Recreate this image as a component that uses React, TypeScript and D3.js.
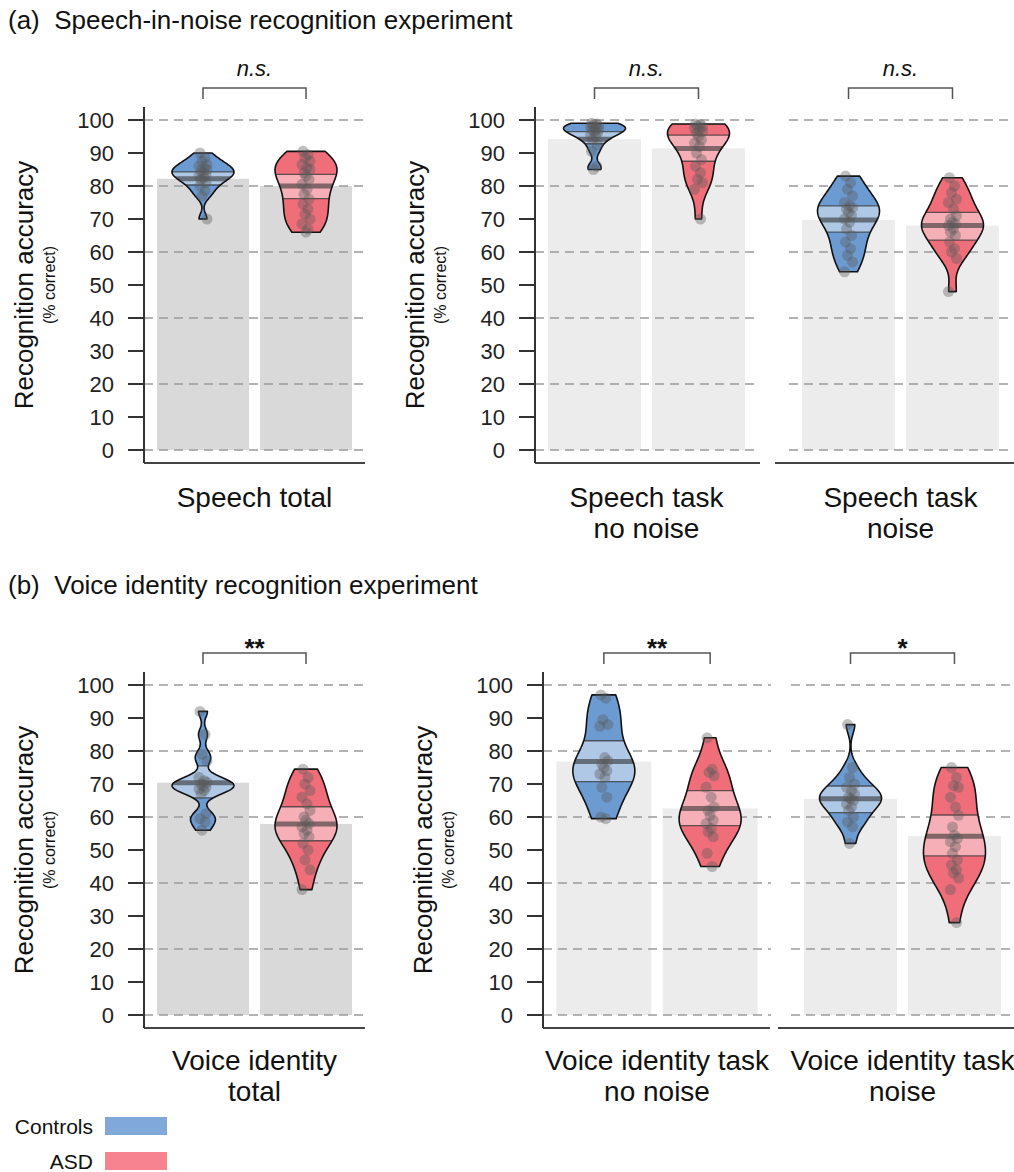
import React, { useRef, useEffect } from 'react'
import * as d3 from 'd3'

const groups = ['Controls', 'ASD']
const beanColors = ['#6c9bd2', '#ef6e7a']
const legendColors = ['#80a9da', '#f6838d']

// (a) speech-in-noise
const speechTitle = '(a)  Speech-in-noise recognition experiment'
const speechLabels = [['Speech total'], ['Speech task', 'no noise'], ['Speech task', 'noise']]
const speechSig = ['n.s.', 'n.s.', 'n.s.']
const speechMeans = [[82.2, 80.0], [94.2, 91.4], [69.7, 68.0]]
const speechCiLow = [[80.3, 76.2], [92.8, 87.5], [66.0, 63.6]]
const speechCiHigh = [[84.3, 83.5], [96.5, 95.4], [74.0, 72.0]]

const speechTotalControls = [90, 88.5, 87.5, 86.5, 86, 85.5, 85, 84.5, 84, 83.5, 83, 82.5, 82, 81, 80, 78.5, 77, 70]
const speechTotalAsd = [90.5, 89.5, 88.5, 87.5, 86.5, 85.5, 85, 84, 83, 82, 80.5, 79, 77.5, 76, 74.5, 73, 71.5, 70, 68.5, 67, 66]
const speechQuietControls = [99, 98.8, 98.6, 98.3, 98, 97.7, 97.3, 97, 96.5, 96, 95.5, 95, 94, 92.5, 90.5, 86, 85]
const speechQuietAsd = [98.8, 98.6, 98.3, 98, 97.5, 97, 96.5, 96, 95, 94, 93, 92, 90, 88, 86, 84, 82, 81, 79, 70]
const speechNoiseControls = [83, 81, 79, 77, 75, 74, 73.5, 73, 72, 71, 70, 69, 67, 65, 63, 61, 59, 57, 54]
const speechNoiseAsd = [82.5, 80, 78, 76, 75, 73, 71, 70, 69, 68.5, 68, 67, 66, 65, 63, 61, 60, 58, 48]

// (b) voice identity
const voiceTitle = '(b)  Voice identity recognition experiment'
const voiceLabels = [['Voice identity', 'total'], ['Voice identity task', 'no noise'], ['Voice identity task', 'noise']]
const voiceSig = ['**', '**', '*']
const voiceMeans = [[70.4, 57.9], [76.8, 62.6], [65.5, 54.2]]
const voiceCiLow = [[65.8, 52.8], [70.7, 57.4], [61.3, 48.2]]
const voiceCiHigh = [[75.5, 63.1], [83.1, 68.0], [69.4, 60.6]]

const voiceTotalControls = [92, 85, 79, 77, 72, 71, 70.5, 70, 69.5, 69, 68.5, 68, 67, 61, 59.5, 58.5, 56]
const voiceTotalAsd = [74.5, 72, 70, 68, 66, 64, 62, 60, 59, 58, 57, 56, 55, 54, 52, 50, 47, 44, 38]
const voiceQuietControls = [97, 96, 89.5, 88, 87.5, 78, 77, 76, 75, 74, 73, 72, 69, 66, 60, 59.5]
const voiceQuietAsd = [84, 74.5, 73.5, 72.5, 69, 66, 63, 62, 60.5, 59, 58, 56.5, 55.5, 54, 49, 45]
const voiceNoiseControls = [88, 75, 72, 70, 69, 68, 67, 66, 65.5, 65, 64, 63, 62, 60, 58.5, 57, 52]
const voiceNoiseAsd = [75, 72, 69.5, 69, 66, 63, 60.5, 57, 54.5, 53.5, 52.5, 51, 49, 47, 45.5, 44, 43, 41.5, 38, 28]

const yTicks = d3.range(0, 101, 10)
const gridTicks = d3.range(0, 101, 20)

const FONT = 'Liberation Sans, Arial, Helvetica, sans-serif'
const W = 1014
const H = 1172

const rows = [
    {
        title: speechTitle, labels: speechLabels, sig: speechSig,
        means: speechMeans, ciLow: speechCiLow, ciHigh: speechCiHigh,
        points: [[speechTotalControls, speechTotalAsd], [speechQuietControls, speechQuietAsd], [speechNoiseControls, speechNoiseAsd]],
        titleY: 29, axisTop: 107, yZero: 450, yTop: 120, axisBottom: 463, labelY: 507,
        panels: [
            { x0: 144, x1: 365, axis: true, lineX0: 144, lineX1: 365 },
            { x0: 535, x1: 758, axis: true, lineX0: 535, lineX1: 760 },
            { x0: 789, x1: 1012, axis: false, lineX0: 775, lineX1: 1014 },
        ],
    },
    {
        title: voiceTitle, labels: voiceLabels, sig: voiceSig,
        means: voiceMeans, ciLow: voiceCiLow, ciHigh: voiceCiHigh,
        points: [[voiceTotalControls, voiceTotalAsd], [voiceQuietControls, voiceQuietAsd], [voiceNoiseControls, voiceNoiseAsd]],
        titleY: 594, axisTop: 672, yZero: 1015, yTop: 685, axisBottom: 1028, labelY: 1070,
        panels: [
            { x0: 144, x1: 365, axis: true, lineX0: 144, lineX1: 365 },
            { x0: 543, x1: 771, axis: true, lineX0: 543, lineX1: 770 },
            { x0: 791, x1: 1014, axis: false, lineX0: 778, lineX1: 1014 },
        ],
    },
]

// small horizontal jitter for the dots
const jitter = [-3, 2, -1, 4, -4, 1, 4, -2, 0, 3, -4, 1, -2, 3, -3, 2, -1, 4, -4, 2, 0]

// gaussian kernel density, R's nrd0 bandwidth, cut to the data range
function kde(values: number[]) {
    const s = values.slice().sort(d3.ascending)
    const n = s.length
    const sd = d3.deviation(s) as number
    const iqr = (d3.quantile(s, 0.75) as number) - (d3.quantile(s, 0.25) as number)
    const bw = 0.9 * Math.min(sd, iqr / 1.34) * Math.pow(n, -0.2)
    const lo = s[0], hi = s[n - 1]
    return d3.range(0, 121).map(i => {
        const v = lo + (hi - lo) * i / 120
        const d = d3.mean(s, x => Math.exp(-0.5 * ((v - x) / bw) ** 2)) as number
        return [v, d]
    })
}

const Chart = () => {
    const element = useRef(null)

    useEffect(() => {
        const root = d3.select(element.current)
        root.selectAll('*').remove()

        const svg = root.append('svg')
            .attr('width', W)
            .attr('height', H)
            .style('display', 'block')
            .style('font-family', FONT)

        const defs = svg.append('defs')

        rows.forEach((row, r) => {
            const y = d3.scaleLinear().domain([0, 100]).range([row.yZero, row.yTop])

            svg.append('text')
                .attr('x', 8)
                .attr('y', row.titleY)
                .attr('font-size', 26)
                .attr('fill', '#111')
                .style('white-space', 'pre')
                .text(row.title)

            row.panels.forEach((p, k) => {
                const g = svg.append('g')
                const band = d3.scaleBand().domain(groups).range([p.x0, p.x1]).paddingInner(0.107).paddingOuter(0.126)
                const bw = band.bandwidth()

                // bars (means)
                groups.forEach((grp, gi) => {
                    g.append('rect')
                        .attr('x', band(grp))
                        .attr('y', y(row.means[k][gi]))
                        .attr('width', bw)
                        .attr('height', y(0) - y(row.means[k][gi]))
                        .attr('fill', k === 0 ? '#d9d9d9' : '#ececec')
                })

                // dashed grid
                gridTicks.forEach(t => {
                    g.append('line')
                        .attr('x1', p.x0).attr('x2', p.x1)
                        .attr('y1', y(t)).attr('y2', y(t))
                        .attr('stroke', '#9a9a9a')
                        .attr('stroke-width', 1.4)
                        .attr('stroke-dasharray', '9,6')
                })

                // axes
                g.append('line')
                    .attr('x1', p.lineX0).attr('x2', p.lineX1)
                    .attr('y1', row.axisBottom).attr('y2', row.axisBottom)
                    .attr('stroke', '#444').attr('stroke-width', 2)

                if (p.axis) {
                    g.append('line')
                        .attr('x1', p.x0).attr('x2', p.x0)
                        .attr('y1', row.axisTop).attr('y2', row.axisBottom)
                        .attr('stroke', '#333').attr('stroke-width', 2)
                    yTicks.forEach(t => {
                        g.append('line')
                            .attr('x1', p.x0 - 16).attr('x2', p.x0)
                            .attr('y1', y(t)).attr('y2', y(t))
                            .attr('stroke', '#333').attr('stroke-width', 2)
                        g.append('text')
                            .attr('x', p.x0 - 30)
                            .attr('y', y(t))
                            .attr('text-anchor', 'end')
                            .attr('dominant-baseline', 'central')
                            .attr('font-size', 22)
                            .attr('fill', '#222')
                            .text(t)
                    })
                    const cy = (row.yZero + row.yTop) / 2
                    g.append('text')
                        .attr('transform', `translate(${p.x0 - 120},${cy}) rotate(-90)`)
                        .attr('text-anchor', 'middle')
                        .attr('dominant-baseline', 'central')
                        .attr('font-size', 26)
                        .attr('fill', '#111')
                        .text('Recognition accuracy')
                    g.append('text')
                        .attr('transform', `translate(${p.x0 - 95},${cy}) rotate(-90)`)
                        .attr('text-anchor', 'middle')
                        .attr('dominant-baseline', 'central')
                        .attr('font-size', 16)
                        .attr('fill', '#111')
                        .text('(% correct)')
                }

                // beans
                groups.forEach((grp, gi) => {
                    const cx = (band(grp) as number) + bw / 2
                    const dens = kde(row.points[k][gi])
                    const maxD = d3.max(dens, d => d[1]) as number
                    const area = d3.area<number[]>()
                        .y(d => y(d[0]))
                        .x0(d => cx - 31 * d[1] / maxD)
                        .x1(d => cx + 31 * d[1] / maxD)
                    const beanPath = area(dens) as string
                    const id = `bean-${r}-${k}-${gi}`

                    defs.append('clipPath').attr('id', id).append('path').attr('d', beanPath)

                    g.append('path')
                        .attr('d', beanPath)
                        .attr('fill', beanColors[gi])

                    const inner = g.append('g').attr('clip-path', `url(#${id})`)
                    inner.append('rect')
                        .attr('x', cx - 40)
                        .attr('width', 80)
                        .attr('y', y(row.ciHigh[k][gi]))
                        .attr('height', y(row.ciLow[k][gi]) - y(row.ciHigh[k][gi]))
                        .attr('fill', '#fff')
                        .attr('opacity', 0.45)
                    ;[row.ciHigh[k][gi], row.ciLow[k][gi]].forEach(v => {
                        inner.append('line')
                            .attr('x1', cx - 40).attr('x2', cx + 40)
                            .attr('y1', y(v)).attr('y2', y(v))
                            .attr('stroke', '#333').attr('stroke-opacity', 0.75)
                            .attr('stroke-width', 1.3)
                    })
                    inner.append('line')
                        .attr('x1', cx - 40).attr('x2', cx + 40)
                        .attr('y1', y(row.means[k][gi])).attr('y2', y(row.means[k][gi]))
                        .attr('stroke', '#333').attr('stroke-opacity', 0.6)
                        .attr('stroke-width', 5)

                    g.append('path')
                        .attr('d', beanPath)
                        .attr('fill', 'none')
                        .attr('stroke', '#111')
                        .attr('stroke-width', 1.6)
                        .attr('stroke-linejoin', 'round')

                    row.points[k][gi].forEach((v, i) => {
                        g.append('circle')
                            .attr('cx', cx + jitter[i % jitter.length])
                            .attr('cy', y(v))
                            .attr('r', 5.5)
                            .attr('fill', '#5a5a5a')
                            .attr('fill-opacity', 0.38)
                    })
                })

                // significance bracket
                const c0 = (band(groups[0]) as number) + bw / 2
                const c1 = (band(groups[1]) as number) + bw / 2
                const by = row.axisTop - 19
                g.append('path')
                    .attr('d', `M${c0},${by + 11}V${by}H${c1}V${by + 11}`)
                    .attr('fill', 'none')
                    .attr('stroke', '#555')
                    .attr('stroke-width', 1.5)
                const sig = row.sig[k]
                const isStar = sig.indexOf('*') >= 0
                g.append('text')
                    .attr('x', (c0 + c1) / 2)
                    .attr('y', isStar ? by + 4 : by - 12)
                    .attr('text-anchor', 'middle')
                    .attr('font-size', isStar ? 26 : 22)
                    .attr('font-style', isStar ? 'normal' : 'italic')
                    .attr('font-weight', isStar ? 'bold' : 'normal')
                    .attr('fill', '#111')
                    .text(sig)

                // x label
                const mid = (p.x0 + p.x1) / 2
                row.labels[k].forEach((line, li) => {
                    g.append('text')
                        .attr('x', mid)
                        .attr('y', row.labelY + li * 31)
                        .attr('text-anchor', 'middle')
                        .attr('font-size', 28)
                        .attr('fill', '#111')
                        .text(line)
                })
            })
        })

        // legend
        groups.forEach((grp, gi) => {
            svg.append('text')
                .attr('x', 93)
                .attr('y', 1134 + gi * 35)
                .attr('text-anchor', 'end')
                .attr('font-size', 21)
                .attr('fill', '#111')
                .text(grp)
            svg.append('rect')
                .attr('x', 105)
                .attr('y', 1117 + gi * 35)
                .attr('width', 62)
                .attr('height', 18)
                .attr('fill', legendColors[gi])
        })

        return () => {
            root.selectAll('*').remove()
        }
    }, [])

    return (
        <div ref={element} style={{ position: 'absolute', left: 0, top: 0, width: W, height: H, overflow: 'hidden' }}></div>
    )
}

export default function App() {
    return <Chart />
}
